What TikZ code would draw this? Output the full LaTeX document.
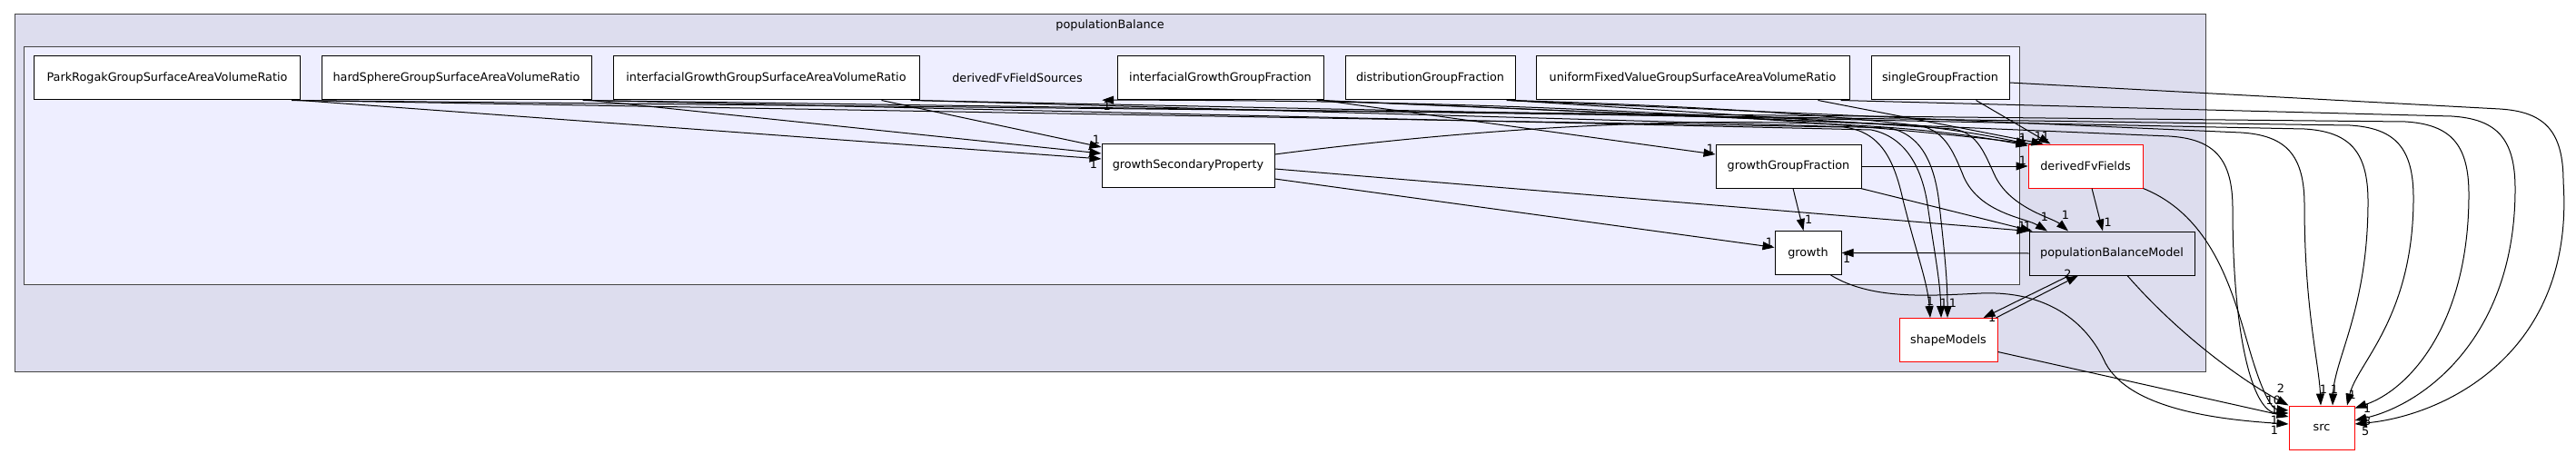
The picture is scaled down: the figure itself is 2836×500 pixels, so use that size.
\documentclass[tikz,border=0pt]{standalone}
\usepackage{fontspec}
\setmainfont{DejaVu Sans}
\usetikzlibrary{arrows.meta}
\definecolor{outerfill}{HTML}{DDDDEE}
\definecolor{innerfill}{HTML}{EEEEFF}
\definecolor{clusterline}{HTML}{444444}
\tikzset{
  dirnode/.style={draw=black, fill=white, line width=1pt, minimum height=48pt, inner sep=0pt, font=\fontsize{12.8}{15}\selectfont},
  rednode/.style={dirnode, draw=red},
  dep/.style={-{Triangle[length=13pt,width=9pt]}, line width=1pt},
  cnt/.style={inner sep=1pt, font=\fontsize{12.8}{15}\selectfont},
}
\begin{document}
\begin{tikzpicture}[x=1pt,y=-1pt]
        \useasboundingbox (0,0) rectangle (2836,500);
        % populationBalance
        \draw[clusterline, fill=outerfill, line width=1pt] (16,16) rectangle (2428,409);
        \node[cnt] (popbal) at (1222,28) {populationBalance};
        % derivedFvFieldSources
        \draw[clusterline, fill=innerfill, line width=1pt] (26,52) rectangle (2223,313);
        \node[cnt, minimum width=186pt, minimum height=48pt, inner sep=0pt] (fvsrc) at (1120,86) {derivedFvFieldSources};

        % top row
        \node[dirnode, minimum width=293pt] (prsav) at (184,86) {ParkRogakGroupSurfaceAreaVolumeRatio};
        \node[dirnode, minimum width=297pt] (hssav) at (502.5,86) {hardSphereGroupSurfaceAreaVolumeRatio};
        \node[dirnode, minimum width=337pt] (igsav) at (843.5,86) {interfacialGrowthGroupSurfaceAreaVolumeRatio};
        \node[dirnode, minimum width=227pt] (igfrac) at (1343.5,86) {interfacialGrowthGroupFraction};
        \node[dirnode, minimum width=187pt] (distfrac) at (1574.5,86) {distributionGroupFraction};
        \node[dirnode, minimum width=345pt] (ufvsav) at (1863.5,86) {uniformFixedValueGroupSurfaceAreaVolumeRatio};
        \node[dirnode, minimum width=152pt] (sgfrac) at (2136,86) {singleGroupFraction};
        % middle row
        \node[dirnode, minimum width=190pt] (secprop) at (1308,182) {growthSecondaryProperty};
        \node[dirnode, minimum width=160pt] (ggfrac) at (1969,183) {growthGroupFraction};
        \node[rednode, minimum width=126pt] (dfvf) at (2296,183) {derivedFvFields};
        % bottom
        \node[dirnode, minimum width=73pt] (growth) at (1990.5,278.5) {growth};
        \node[dirnode, fill=outerfill, minimum width=182pt] (pbm) at (2325,279) {populationBalanceModel};
        \node[rednode, minimum width=108pt] (shape) at (2145,374.5) {shapeModels};
        \node[rednode, minimum width=72pt] (src) at (2556,471) {src};

        % into growthSecondaryProperty
        \draw[dep] ([xshift=-1pt]prsav.south east) -- ([yshift=7pt]secprop.west) node[cnt, at end, anchor=north east, xshift=-3pt]{1};
        \draw[dep] ([xshift=-1pt]hssav.south east) -- ([yshift=13pt]secprop.west) node[cnt, at end, anchor=east, xshift=-6pt]{1};
        \draw[dep] ([xshift=-42pt]igsav.south east) -- ([yshift=20pt]secprop.west) node[cnt, at end, anchor=south east, yshift=2pt]{1};

        % out of growthSecondaryProperty
        \draw[dep] ([yshift=12pt]secprop.east) .. controls (1750,125) and (2050,125) .. ([yshift=-2pt]dfvf.north west) node[cnt, at end, anchor=south east]{1};
        \draw[dep] ([yshift=-4pt]secprop.east) -- (pbm.north west) node[cnt, at end, anchor=south east, xshift=-2pt]{1};
        \draw[dep] ([yshift=-15pt]secprop.east) -- ([yshift=6pt]growth.west) node[cnt, at end, anchor=south east]{1};

        % growthGroupFraction
        \draw[dep] ([xshift=-1pt]igfrac.south east) -- ([yshift=13pt]ggfrac.west) node[cnt, at end, anchor=south east]{1};
        \draw[dep] (ggfrac.east) -- (dfvf.west) node[cnt, at end, anchor=south east]{1};
        \draw[dep] ([xshift=-1pt]ggfrac.south east) -- ([xshift=4pt]pbm.north west) node[cnt, at end, anchor=south east]{1};
        \draw[dep] ([xshift=5pt]ggfrac.south) -- ([xshift=-5pt]growth.north) node[cnt, at end, anchor=south west, yshift=6pt]{1};

        % into derivedFvFields
        \draw[dep] ([xshift=-3pt]distfrac.south east) .. controls (1900,118) and (2100,130) .. (dfvf.north west) node[cnt, at end, anchor=south east]{1};
        \draw[dep] ([xshift=-35pt]ufvsav.south east) -- ([xshift=17pt]dfvf.north west) node[cnt, at end, anchor=south east, yshift=3pt]{1};
        \draw[dep] ([xshift=-37pt]sgfrac.south east) -- ([xshift=25pt]dfvf.north west) node[cnt, at end, anchor=south east, yshift=3pt]{1};

        % derivedFvFields, populationBalanceModel
        \draw[dep] ([xshift=7pt]dfvf.south) -- ([xshift=-10pt]pbm.north) node[cnt, at end, anchor=south west, yshift=4pt]{1};
        \draw[dep] (pbm.west) -- (growth.east) node[cnt, at end, anchor=north west]{1};
        \draw[dep] ([xshift=-47pt]pbm.south) -- ([xshift=-16pt]shape.north east) node[cnt, at end, anchor=west, xshift=4pt]{1};
        \draw[dep] ([xshift=-2pt]shape.north east) -- ([xshift=-37pt]pbm.south) node[cnt, at end, anchor=east, xshift=-6pt, yshift=2pt]{2};
        \draw[dep] ([xshift=4pt]dfvf.north west) .. controls (1900,118) and (1500,110) .. (fvsrc.south east) node[cnt, at end, anchor=north west]{1};

        % into populationBalanceModel
        \draw[dep] ([xshift=-6pt]igfrac.south east) -- (2110,138) .. controls (2140,142) and (2150,165) .. (2162,195) .. controls (2180,235) and (2230,240) .. ([xshift=-71pt]pbm.north) node[cnt, at end, anchor=south, xshift=-3pt, yshift=10pt]{1};
        \draw[dep] ([xshift=-6pt]distfrac.south east) -- (2150,142) .. controls (2178,146) and (2185,170) .. (2197,195) .. controls (2215,230) and (2260,240) .. ([xshift=-48pt]pbm.north) node[cnt, at end, anchor=south, xshift=-3pt, yshift=12pt]{1};

        % into shapeModels
        \draw[dep] ([xshift=-4pt]prsav.south east) -- (2030,140) .. controls (2070,145) and (2085,175) .. (2095,220) .. controls (2110,280) and (2122,310) .. ([xshift=-20pt]shape.north) node[cnt, at end, anchor=south, yshift=12pt]{1};
        \draw[dep] ([xshift=-4pt]hssav.south east) -- (2060,143) .. controls (2095,150) and (2115,180) .. (2122,225) .. controls (2130,280) and (2136,310) .. ([xshift=-8pt]shape.north) node[cnt, at end, anchor=south, xshift=3pt, yshift=10pt]{1};
        \draw[dep] ([xshift=-4pt]igsav.south east) -- (2080,141) .. controls (2115,148) and (2130,180) .. (2135,225) .. controls (2141,280) and (2144,310) .. ([xshift=-1pt]shape.north) node[cnt, at end, anchor=south, xshift=6pt, yshift=10pt]{1};

        % into src
        \draw[dep] ([xshift=17pt]pbm.south) .. controls (2400,370) and (2470,420) .. (src.north west) node[cnt, at end, anchor=south east, xshift=-3pt, yshift=13pt]{2};
        \draw[dep] (dfvf.south east) .. controls (2440,240) and (2460,330) .. (2478,390) .. controls (2490,430) and (2500,450) .. ([yshift=19pt]src.west) node[cnt, at end, anchor=east, xshift=-7pt, yshift=11pt]{10};
        \draw[dep] ([yshift=-13pt]shape.east) -- ([yshift=12pt]src.west) node[cnt, at end, anchor=east, xshift=-10pt, yshift=-4pt]{1};
        \draw[dep] ([xshift=25pt]growth.south) .. controls (2060,330) and (2120,326) .. (2181,323) .. controls (2260,320) and (2300,360) .. (2318,400) .. controls (2345,450) and (2440,462) .. ([yshift=4pt]src.west) node[cnt, at end, anchor=east, xshift=-10pt, yshift=-7pt]{1};
        \draw[dep] ([xshift=-8pt]igfrac.south east) -- (2388,150) .. controls (2438,153) and (2458,175) .. (2458,230) .. controls (2458,370) and (2480,455) .. ([yshift=16pt]src.west) node[cnt, at end, anchor=east, xshift=-10pt, yshift=3pt]{1};
        \draw[dep] ([xshift=-10pt]distfrac.south east) -- (2467,146) .. controls (2517,149) and (2537,171) .. (2537,226) .. controls (2537,340) and (2553,400) .. ([xshift=-1pt]src.north) node[cnt, at end, anchor=south, xshift=3pt, yshift=12pt]{1};
        \draw[dep] ([xshift=-10pt]igsav.south east) -- (2537,142) .. controls (2587,145) and (2607,167) .. (2607,222) .. controls (2607,340) and (2570,395) .. ([xshift=12pt]src.north) node[cnt, at end, anchor=south, xshift=2pt, yshift=12pt]{1};
        \draw[dep] ([xshift=-10pt]hssav.south east) -- (2587,138) .. controls (2637,141) and (2657,163) .. (2657,218) .. controls (2657,350) and (2595,400) .. ([xshift=28pt]src.north) node[cnt, at end, anchor=south west, yshift=6pt]{1};
        \draw[dep] ([xshift=-10pt]prsav.south east) -- (2648,134) .. controls (2698,137) and (2718,159) .. (2718,214) .. controls (2718,360) and (2650,430) .. ([yshift=-3pt]src.north east) node[cnt, at end, anchor=west, xshift=8pt]{1};
        \draw[dep] ([xshift=-10pt]ufvsav.south east) -- (2699,128) .. controls (2749,131) and (2769,153) .. (2769,208) .. controls (2769,370) and (2670,445) .. ([yshift=8pt]src.east) node[cnt, at end, anchor=west, xshift=8pt, yshift=-1pt]{3};
        \draw[dep] ([yshift=-5pt]sgfrac.east) -- (2752,120) .. controls (2802,123) and (2822,145) .. (2822,200) .. controls (2835,390) and (2690,458) .. ([yshift=4pt]src.east) node[cnt, at end, anchor=north west, xshift=6pt, yshift=-2pt]{5};
    \end{tikzpicture}
\end{document}
